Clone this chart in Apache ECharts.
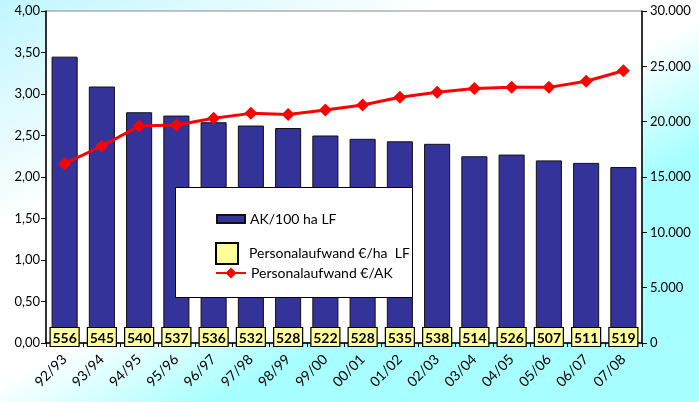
<!DOCTYPE html>
<html><head><meta charset="utf-8">
<script src="https://cdn.jsdelivr.net/npm/echarts@6/dist/echarts.min.js"></script>
<style>html,body{margin:0;padding:0;}#c{width:699px;height:402px;}</style>
</head><body><div id="c"></div>
<script>
const categories = ['92/93','93/94','94/95','95/96','96/97','97/98','98/99','99/00','00/01','01/02','02/03','03/04','04/05','05/06','06/07','07/08'];
const akPer100ha = [3.45,3.09,2.78,2.74,2.66,2.62,2.59,2.50,2.46,2.43,2.40,2.25,2.27,2.20,2.17,2.12];
const costPerHa = [556,545,540,537,536,532,528,522,528,535,538,514,526,507,511,519];
const costPerAK = [16200,17800,19600,19700,20300,20750,20650,21050,21500,22200,22650,23000,23100,23100,23650,24600];
const leftTicks = {min:0,max:4,interval:0.5};
const rightTicks = {min:0,max:30000,interval:5000};

const FONT = 'Lato';
const chart = echarts.init(document.getElementById('c'));
chart.setOption({
  animation:false,
  backgroundColor:{type:'linear',x:0,y:0,x2:0.3,y2:1,colorStops:[
    {offset:0,color:'#c0f6ff'},{offset:0.45,color:'#ffffff'},{offset:0.75,color:'#ffffff'},{offset:1,color:'#a8ffff'}]},
  textStyle:{fontFamily:FONT},
  grid:{left:46,right:57,top:11,bottom:59,show:true,backgroundColor:'#ffffff',borderColor:'#888',borderWidth:1},
  graphic:[{type:'rect',left:175,top:187,shape:{width:237,height:110},
    style:{fill:'#ffffff',stroke:'#000',lineWidth:1},z:50}],
  legend:[
    {data:['AK/100 ha LF'],left:211,top:207,icon:'rect',itemWidth:28,itemHeight:8,
     textStyle:{fontFamily:FONT,fontSize:14,color:'#000'},z:60},
    {data:['Personalaufwand €/ha  LF'],left:210,top:237,icon:'rect',itemWidth:22,itemHeight:21,
     textStyle:{fontFamily:FONT,fontSize:14,color:'#000',padding:[0,0,0,6]},z:60},
    {data:['Personalaufwand €/AK'],left:210,top:261,itemWidth:30,itemHeight:14,
     textStyle:{fontFamily:FONT,fontSize:14,color:'#000'},z:60}
  ],
  xAxis:{type:'category',data:categories,boundaryGap:true,
    axisLine:{lineStyle:{color:'#000',width:1.5}},
    axisTick:{show:true,length:4,inside:false,lineStyle:{color:'#000'}},
    axisLabel:{rotate:45,fontSize:14,color:'#000',margin:14,fontFamily:FONT}},
  yAxis:[
    {type:'value',min:leftTicks.min,max:leftTicks.max,interval:leftTicks.interval,position:'left',
     splitLine:{show:false},axisLine:{show:true,lineStyle:{color:'#000',width:1.5}},
     axisTick:{show:true,length:5,lineStyle:{color:'#000'}},
     axisLabel:{fontSize:13,color:'#000',margin:6,fontFamily:FONT,formatter:v=>v.toFixed(2).replace('.',',')}},
    {type:'value',min:rightTicks.min,max:rightTicks.max,interval:rightTicks.interval,position:'right',
     splitLine:{show:false},axisLine:{show:true,lineStyle:{color:'#000',width:1.5}},
     axisTick:{show:true,length:5,lineStyle:{color:'#000'}},
     axisLabel:{fontSize:13,color:'#000',margin:8,fontFamily:FONT,
       formatter:v=>v===0?'0':String(v).replace(/\B(?=(\d{3})+(?!\d))/g,'.')}}
  ],
  series:[
    {name:'AK/100 ha LF',type:'bar',yAxisIndex:0,data:akPer100ha,barWidth:'70%',
     itemStyle:{color:'#333399',borderColor:'#111',borderWidth:1},z:2},
    {name:'Personalaufwand €/AK',type:'line',yAxisIndex:1,data:costPerAK,
     lineStyle:{color:'#ff0000',width:3},itemStyle:{color:'#ff0000'},
     symbol:'diamond',symbolSize:13,z:5},
    {name:'Personalaufwand €/ha  LF',type:'scatter',yAxisIndex:0,
     data:costPerHa.map((v,i)=>[i,0,v]),
     symbol:'rect',symbolSize:[29,19],symbolOffset:[0,-6],
     itemStyle:{color:'#ffff99',borderColor:'#000',borderWidth:1,opacity:1},
     label:{show:true,position:'inside',offset:[0,1],formatter:p=>p.value[2],
       color:'#000',textBorderWidth:0,fontSize:14,fontWeight:'bold',fontFamily:FONT},z:4}
  ]
});
</script></body></html>
